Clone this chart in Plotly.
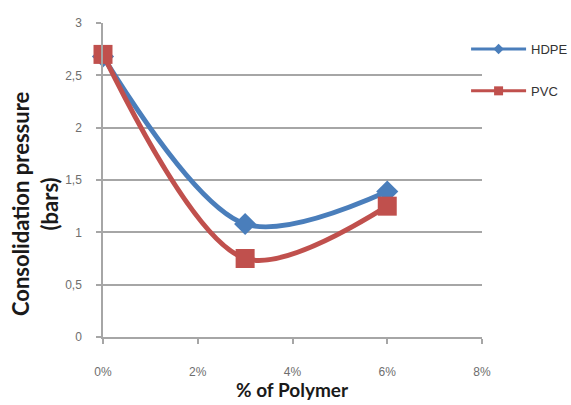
import plotly.graph_objects as go

polymer_pct = [0, 3, 6]
hdpe = [2.68, 1.08, 1.39]
pvc = [2.70, 0.75, 1.25]
x_tickvals = [0, 2, 4, 6, 8]
x_ticktext = ["0%", "2%", "4%", "6%", "8%"]
y_tickvals = [0, 0.5, 1, 1.5, 2, 2.5, 3]
y_ticktext = ["0", "0,5", "1", "1,5", "2", "2,5", "3"]

blue = "#4A7EBB"
red = "#C0504D"

fig = go.Figure()
fig.add_trace(go.Scatter(
    x=polymer_pct, y=hdpe, name="HDPE", mode="lines+markers",
    line=dict(color=blue, width=5, shape="spline", smoothing=0.9),
    marker=dict(symbol="diamond", size=17, color=blue),
    showlegend=False, cliponaxis=False,
))
fig.add_trace(go.Scatter(
    x=polymer_pct, y=pvc, name="PVC", mode="lines+markers",
    line=dict(color=red, width=5, shape="spline", smoothing=0.9),
    marker=dict(symbol="square", size=19, color=red),
    showlegend=False, cliponaxis=False,
))
# legend entries with small symbols, as in the original
fig.add_trace(go.Scatter(
    x=[None], y=[None], name="HDPE", mode="lines+markers",
    line=dict(color=blue, width=3), marker=dict(symbol="diamond", size=8, color=blue),
    legendgroup="a",
))
fig.add_trace(go.Scatter(
    x=[None], y=[None], name="PVC", mode="lines+markers",
    line=dict(color=red, width=3), marker=dict(symbol="square", size=9, color=red),
    legendgroup="b",
))

axis_grey = "#A6A6A6"
tick_font = dict(family="Liberation Sans", size=12, color="#6E6E6E")
title_font = dict(family="Lato", size=19, color="#1a1a1a")

fig.update_layout(
    width=571, height=405,
    margin=dict(l=103, r=89, t=23, b=68, autoexpand=False),
    paper_bgcolor="white", plot_bgcolor="white",
    showlegend=True,
    legend=dict(
        x=0.958, y=0.965, xanchor="left", yanchor="top",
        font=dict(family="Liberation Sans", size=13, color="#333333"),
        tracegroupgap=22, bgcolor="rgba(0,0,0,0)", itemwidth=55,
    ),
    xaxis=dict(
        range=[0, 8], tickvals=x_tickvals, ticktext=x_ticktext,
        showgrid=False, zeroline=False, showline=True, linecolor=axis_grey, linewidth=1.5,
        ticks="outside", ticklen=5, tickcolor=axis_grey, tickwidth=1.5,
        tickfont=tick_font, ticklabelstandoff=18, automargin=False,
    ),
    yaxis=dict(
        range=[0, 3], tickvals=y_tickvals, ticktext=y_ticktext,
        showgrid=True, gridcolor=axis_grey, gridwidth=1.5, zeroline=False,
        showline=True, linecolor=axis_grey, linewidth=1.5,
        ticks="outside", ticklen=5, tickcolor=axis_grey, tickwidth=1.5,
        tickfont=tick_font, ticklabelstandoff=12, automargin=False,
    ),
    annotations=[
        dict(
            text="<b>Consolidation pressure<br>(bars)</b>", textangle=-90,
            xref="paper", yref="paper", x=-0.179, y=0.424,
            xanchor="center", yanchor="middle", showarrow=False,
            font=dict(family="Lato", size=22, color="#1a1a1a"),
        ),
        dict(
            text="<b>% of Polymer</b>",
            xref="paper", yref="paper", x=0.5, y=-0.211,
            xanchor="center", yanchor="bottom", showarrow=False,
            font=title_font,
        ),
    ],
)

fig.write_html("out.html")
